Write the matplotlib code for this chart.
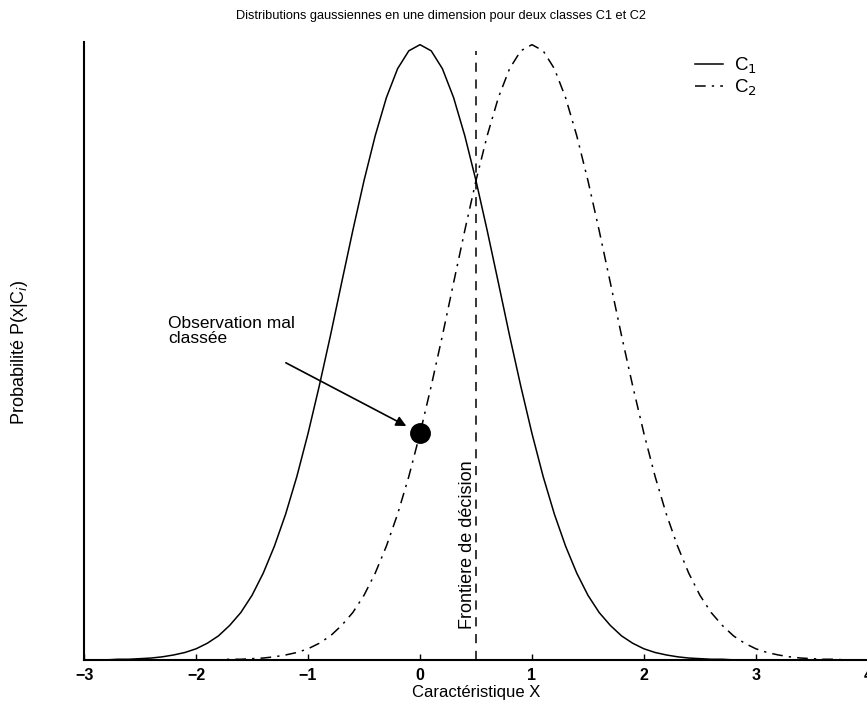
import matplotlib
matplotlib.use("Agg")
import matplotlib.pyplot as plt

plt.rcParams['font.family'] = ['Liberation Sans', 'DejaVu Sans']

# sample positions of both curves (step 0.1)
x = [-3.0, -2.9, -2.8, -2.7, -2.6, -2.5, -2.4, -2.3, -2.2, -2.1,
     -2.0, -1.9, -1.8, -1.7, -1.6, -1.5, -1.4, -1.3, -1.2, -1.1,
     -1.0, -0.9, -0.8, -0.7, -0.6, -0.5, -0.4, -0.3, -0.2, -0.1,
     0.0, 0.1, 0.2, 0.3, 0.4, 0.5, 0.6, 0.7, 0.8, 0.9,
     1.0, 1.1, 1.2, 1.3, 1.4, 1.5, 1.6, 1.7, 1.8, 1.9,
     2.0, 2.1, 2.2, 2.3, 2.4, 2.5, 2.6, 2.7, 2.8, 2.9,
     3.0, 3.1, 3.2, 3.3, 3.4, 3.5, 3.6, 3.7, 3.8, 3.9, 4.0]

c1 = [0.000, 0.000, 0.000, 0.001, 0.001, 0.002, 0.003, 0.005, 0.008, 0.012,
      0.018, 0.027, 0.039, 0.056, 0.077, 0.105, 0.141, 0.185, 0.237, 0.298,
      0.368, 0.445, 0.527, 0.613, 0.698, 0.779, 0.852, 0.914, 0.961, 0.990,
      1.000, 0.990, 0.961, 0.914, 0.852, 0.779, 0.698, 0.613, 0.527, 0.445,
      0.368, 0.298, 0.237, 0.185, 0.141, 0.105, 0.077, 0.056, 0.039, 0.027,
      0.018, 0.012, 0.008, 0.005, 0.003, 0.002, 0.001, 0.001, 0.000, 0.000,
      0.000, 0.000, 0.000, 0.000, 0.000, 0.000, 0.000, 0.000, 0.000, 0.000, 0.000]

c2 = [0.000, 0.000, 0.000, 0.000, 0.000, 0.000, 0.000, 0.000, 0.000, 0.000,
      0.000, 0.000, 0.000, 0.001, 0.001, 0.002, 0.003, 0.005, 0.008, 0.012,
      0.018, 0.027, 0.039, 0.056, 0.077, 0.105, 0.141, 0.185, 0.237, 0.298,
      0.368, 0.445, 0.527, 0.613, 0.698, 0.779, 0.852, 0.914, 0.961, 0.990,
      1.000, 0.990, 0.961, 0.914, 0.852, 0.779, 0.698, 0.613, 0.527, 0.445,
      0.368, 0.298, 0.237, 0.185, 0.141, 0.105, 0.077, 0.056, 0.039, 0.027,
      0.018, 0.012, 0.008, 0.005, 0.003, 0.002, 0.001, 0.001, 0.000, 0.000, 0.000]

xticks = [-3, -2, -1, 0, 1, 2, 3, 4]
boundary = 0.5
obs_x, obs_y = 0.0, 0.368

fig = plt.figure(figsize=(8.67, 7.05), dpi=100)
ax = fig.add_axes([0.097, 0.064, 0.904, 0.877])

ax.plot(x, c1, color='black', linewidth=1.1, label='C$_1$')
ax.plot(x, c2, color='black', linewidth=1.1, linestyle=(0, (7, 4, 1.5, 4)), label='C$_2$')
ax.plot([boundary, boundary], [0.0, 0.99], color='black', linewidth=1.1,
        linestyle=(0, (6, 5)))
ax.plot([obs_x], [obs_y], 'o', color='black', markersize=14)

ax.annotate('', xy=(obs_x - 0.1, obs_y + 0.01), xytext=(-1.22, 0.485),
            arrowprops=dict(arrowstyle='-|>', color='black', lw=1.2, mutation_scale=15))
ax.text(-2.25, 0.534, 'Observation mal\nclassée', fontsize=12.5, va='center', ha='left',
        linespacing=1.0)
ax.text(0.42, 0.187, 'Frontiere de décision', rotation=90, fontsize=13,
        ha='center', va='center')

ax.set_xlim(-3, 4)
ax.set_ylim(0, 1.005)
ax.set_xticks(xticks)
ax.set_xticklabels(['\u2212' + str(-t) if t < 0 else str(t) for t in xticks],
                   fontsize=11.5, fontweight='bold')
ax.set_yticks([])
ax.tick_params(axis='x', direction='in', length=4, width=1, pad=6)
for s in ['top', 'right']:
    ax.spines[s].set_visible(False)
for s in ['left', 'bottom']:
    ax.spines[s].set_linewidth(1.5)

ax.set_xlabel('Caractéristique X', fontsize=12, labelpad=1)
fig.text(0.022, 0.50, 'Probabilité P(x|C$_i$)', rotation=90, fontsize=13,
         ha='center', va='center')
fig.text(0.509, 0.978, 'Distributions gaussiennes en une dimension pour deux classes C1 et C2',
         fontsize=9.2, ha='center', va='center')

ax.legend(loc='upper right', bbox_to_anchor=(0.88, 1.004), frameon=False, fontsize=13.5,
          handlelength=1.5, handletextpad=0.6, labelspacing=0.05)

fig.savefig('out.png', dpi=100)
